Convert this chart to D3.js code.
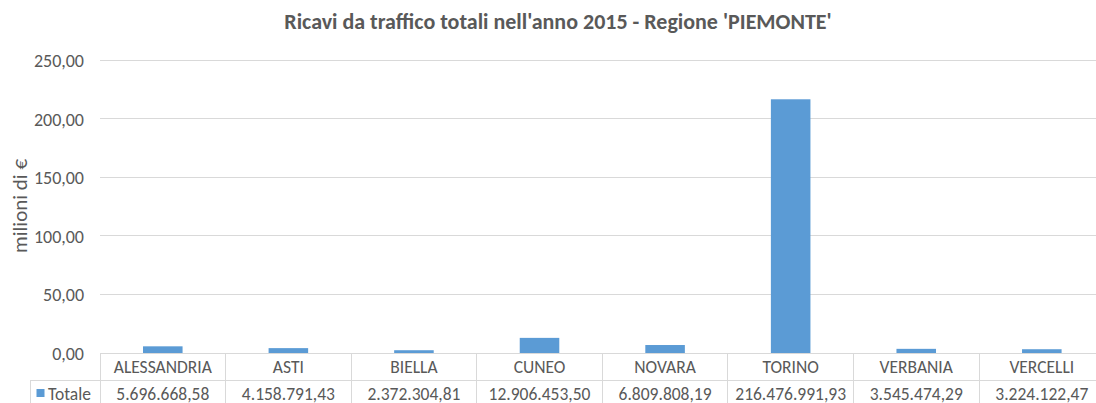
<!DOCTYPE html>
<html><head><meta charset="utf-8">
<script src="https://cdn.jsdelivr.net/npm/d3@7"></script>
<style>
html,body{margin:0;padding:0;background:#fff;overflow:hidden}
text{font-family:Carlito,"Open Sans",sans-serif;fill:#595959}
</style></head>
<body><svg id="c" width="1096" height="403"></svg>
<script>
const categories=["ALESSANDRIA","ASTI","BIELLA","CUNEO","NOVARA","TORINO","VERBANIA","VERCELLI"];
const values=[5696668.58,4158791.43,2372304.81,12906453.50,6809808.19,216476991.93,3545474.29,3224122.47];
const valueLabels=["5.696.668,58","4.158.791,43","2.372.304,81","12.906.453,50","6.809.808,19","216.476.991,93","3.545.474,29","3.224.122,47"];
const yTicks=[0,50,100,150,200,250];
const yTickLabels=["0,00","50,00","100,00","150,00","200,00","250,00"];
const seriesName="Totale";
const title="Ricavi da traffico totali nell'anno 2015 - Regione 'PIEMONTE'";
const yTitle="milioni di €";

const svg=d3.select("#c");
svg.append("rect").attr("width",1096).attr("height",403).attr("fill","#fff");
const grid="#d9d9d9", barCol="#5b9bd5";
const x=d3.scaleBand().domain(categories).range([100,1104.6]).paddingInner(0).paddingOuter(0);
const y=d3.scaleLinear().domain([0,250]).range([353,60]);

// gridlines
svg.append("g").selectAll("line").data(yTicks.filter(d=>d>0)).join("line")
 .attr("x1",100).attr("x2",1104).attr("y1",d=>y(d)).attr("y2",d=>y(d))
 .attr("stroke",grid).attr("stroke-width",1).attr("shape-rendering","crispEdges");
// tick labels
svg.append("g").selectAll("text").data(yTicks).join("text")
 .attr("x",84).attr("y",d=>y(d)+7).attr("text-anchor","end").attr("font-size",18)
 .text((d,i)=>yTickLabels[i]);
// bars
const bw=x.bandwidth()*0.315;
svg.append("g").selectAll("rect").data(values).join("rect")
 .attr("x",(d,i)=>x(categories[i])+x.bandwidth()/2-bw/2)
 .attr("width",bw)
 .attr("y",d=>y(d/1e6)).attr("height",d=>y(0)-y(d/1e6))
 .attr("fill",barCol);
// axis line
svg.append("line").attr("x1",100).attr("x2",1104).attr("y1",y(0)).attr("y2",y(0))
 .attr("stroke",grid).attr("shape-rendering","crispEdges");
// table
const tg=svg.append("g");
const bounds=categories.map(c=>x(c)).concat([x.range()[1]]);
tg.selectAll("line.v").data(bounds).join("line")
 .attr("x1",d=>d).attr("x2",d=>d).attr("y1",353).attr("y2",403)
 .attr("stroke",grid).attr("shape-rendering","crispEdges");
tg.append("line").attr("x1",30).attr("x2",1104).attr("y1",380).attr("y2",380)
 .attr("stroke",grid).attr("shape-rendering","crispEdges");
tg.append("line").attr("x1",30).attr("x2",30).attr("y1",380).attr("y2",403)
 .attr("stroke",grid).attr("shape-rendering","crispEdges");
tg.selectAll("text.cat").data(categories).join("text")
 .attr("x",d=>x(d)+x.bandwidth()/2).attr("y",373).attr("text-anchor","middle").attr("font-size",17.5)
 .text(d=>d);
tg.selectAll("text.val").data(valueLabels).join("text")
 .attr("x",(d,i)=>x(categories[i])+x.bandwidth()/2).attr("y",399.5).attr("text-anchor","middle").attr("font-size",17.5)
 .text(d=>d);
tg.append("rect").attr("x",36.5).attr("y",389).attr("width",8).attr("height",8).attr("fill",barCol);
tg.append("text").attr("x",48).attr("y",399.5).attr("font-size",17.5).text(seriesName);
// titles
svg.append("text").attr("x",558).attr("y",29).attr("text-anchor","middle")
 .attr("font-size",22).attr("font-weight","bold").text(title);
svg.append("text").attr("transform","translate(27,206) rotate(-90)").attr("text-anchor","middle")
 .attr("font-size",21).text(yTitle);
</script></body></html>
